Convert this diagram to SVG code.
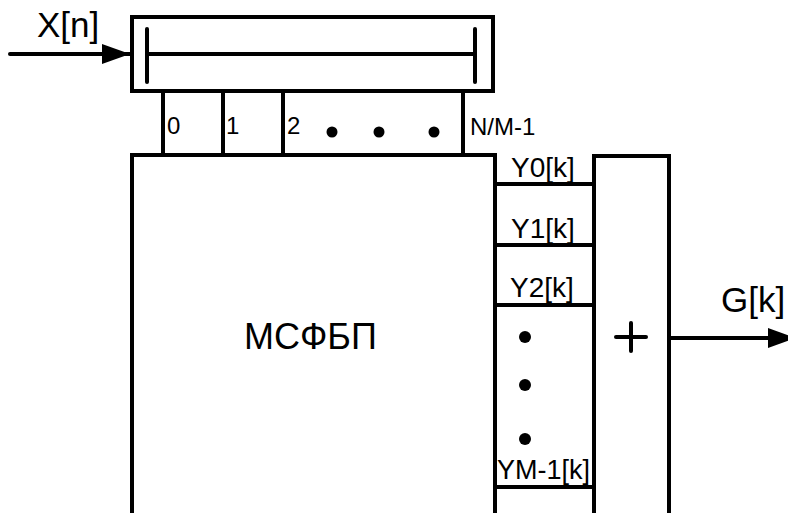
<svg xmlns="http://www.w3.org/2000/svg" width="788" height="513" viewBox="0 0 788 513">
  <style>
    .ln { fill: none; stroke: #000; stroke-width: 4; stroke-linecap: square; }
    .thin { fill: none; stroke: #000; stroke-width: 4; stroke-linecap: round; }
    .t { font-family: "Liberation Sans", Arial, sans-serif; fill: #000; }
    .dot { fill: #000; }
  </style>
  <defs>
    <marker id="arrow" markerWidth="7" markerHeight="5" refX="7" refY="2.5" orient="auto" markerUnits="strokeWidth">
      <path d="M0,0 L7,2.5 L0,5 Z" fill="#000"/>
    </marker>
  </defs>
  <rect width="788" height="513" fill="#fff"/>

  <g id="register">
    <rect class="ln" x="132" y="17" width="361" height="74"/>
    <line class="thin" x1="147" y1="54" x2="475" y2="54"/>
    <line class="thin" x1="147" y1="29" x2="147" y2="82"/>
    <line class="thin" x1="475" y1="29" x2="475" y2="82"/>
  </g>

  <g id="taps">
    <line class="ln" x1="163" y1="91" x2="163" y2="155"/>
    <line class="ln" x1="223" y1="91" x2="223" y2="155"/>
    <line class="ln" x1="283" y1="91" x2="283" y2="155"/>
    <line class="ln" x1="463" y1="91" x2="463" y2="155"/>
    <text class="t" x="167" y="134" font-size="24">0</text>
    <text class="t" x="226" y="134" font-size="24">1</text>
    <text class="t" x="287" y="134" font-size="24">2</text>
    <circle class="dot" cx="332" cy="132" r="5.5"/>
    <circle class="dot" cx="379" cy="132" r="5.5"/>
    <circle class="dot" cx="434" cy="132" r="5.5"/>
    <text class="t" x="470" y="135" font-size="24">N/M-1</text>
  </g>

  <g id="filterbank">
    <polyline class="ln" points="132,520 132,155 495,155 495,520"/>
    <text class="t" x="244" y="349" font-size="36">МСФБП</text>
  </g>

  <g id="outputs">
    <line class="ln" x1="495" y1="184" x2="594" y2="184"/>
    <line class="ln" x1="495" y1="245" x2="594" y2="245"/>
    <line class="ln" x1="495" y1="305" x2="594" y2="305"/>
    <line class="ln" x1="495" y1="487" x2="594" y2="487"/>
    <text class="t" x="511" y="177" font-size="28">Y0[k]</text>
    <text class="t" x="511" y="238" font-size="28">Y1[k]</text>
    <text class="t" x="510" y="297" font-size="28">Y2[k]</text>
    <circle class="dot" cx="525" cy="337" r="6"/>
    <circle class="dot" cx="525" cy="385" r="6"/>
    <circle class="dot" cx="525" cy="439" r="6"/>
    <text class="t" x="497" y="479" font-size="27">YM-1[k]</text>
  </g>

  <g id="summer">
    <polyline class="ln" points="594,520 594,156 669,156 669,520"/>
    <line class="thin" x1="616" y1="337" x2="646" y2="337"/>
    <line class="thin" x1="631" y1="323" x2="631" y2="351"/>
  </g>

  <g id="connectors">
    <line x1="10" y1="54" x2="130" y2="54" stroke="#000" stroke-width="4" stroke-linecap="round" marker-end="url(#arrow)"/>
    <line x1="669" y1="338" x2="796" y2="338" stroke="#000" stroke-width="4" marker-end="url(#arrow)"/>
    <text class="t" x="37" y="37" font-size="35">X[n]</text>
    <text class="t" x="721" y="312" font-size="35">G[k]</text>
  </g>
</svg>
